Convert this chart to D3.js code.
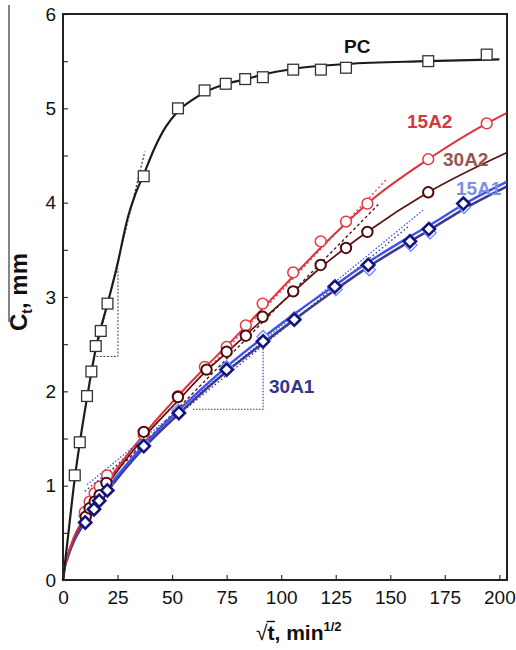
<!DOCTYPE html>
<html><head><meta charset="utf-8">
<script src="https://cdn.jsdelivr.net/npm/d3@7"></script>
<style>
body{margin:0;background:#fff}
svg{display:block}
text{font-family:"Liberation Sans",Arial,Helvetica,sans-serif}
</style>
</head><body>
<svg id="chart" width="516" height="650"></svg>
<script>
// Penetration depth C_t versus square root of time, five mixes
const xTicks = [0, 25, 50, 75, 100, 125, 150, 175, 200];
const yTicks = [0, 0.5, 1, 1.5, 2, 2.5, 3, 3.5, 4, 4.5, 5, 5.5, 6];

// measured points [sqrt(t), C_t]
const pcPoints = [[5.4,1.11],[7.7,1.46],[11,1.95],[13,2.21],[15,2.48],[17.3,2.64],[20.4,2.93],
  [37,4.28],[52.7,5.0],[64.9,5.19],[74.6,5.26],[83.5,5.31],[91.6,5.33],[105.5,5.41],
  [118.2,5.41],[129.7,5.43],[167.4,5.5],[194.2,5.57]];
const a15A2Points = [[10,0.72],[12.2,0.83],[14.5,0.92],[16.8,0.99],[20.2,1.11],[37,1.54],
  [52.7,1.95],[65,2.26],[75,2.47],[83.8,2.70],[91.5,2.93],[105.5,3.26],[118.1,3.59],
  [129.7,3.80],[139.5,3.99],[167.4,4.46],[194.2,4.84]];
const a30A2Points = [[10.4,0.67],[12.2,0.76],[14.5,0.83],[16.8,0.90],[19.9,1.03],[37,1.57],
  [52.7,1.94],[65.8,2.23],[75,2.42],[83.8,2.59],[91.5,2.79],[105.5,3.06],[118.1,3.34],
  [129.7,3.52],[139.5,3.69],[167.4,4.11]];
const a15A1Points = [[10,0.68],[12.2,0.78],[14.5,0.86],[16.8,0.93],[20.2,1.02],[37,1.45],
  [52.7,1.80],[75,2.26],[91.7,2.58],[106,2.78],[125.1,3.08],[140.4,3.29],[159.4,3.55],
  [168.2,3.68],[183.8,3.95]];
const a30A1Points = [[10.2,0.61],[14.2,0.75],[16.6,0.84],[20.3,0.95],[37,1.42],[53.1,1.77],
  [75,2.23],[91.7,2.53],[106,2.76],[124.6,3.11],[139.9,3.34],[159,3.59],[167.7,3.72],[183.5,3.99]];

// fitted model curves
const pcFit = [[0,0],[2.5,0.5],[5.4,1.08],[8,1.5],[11,1.93],[15,2.45],[20.4,2.93],[24.5,3.3],
  [29.8,3.85],[33,4.08],[37,4.3],[42,4.58],[47,4.8],[52.7,4.97],[60,5.1],[65,5.17],[75,5.26],
  [84,5.31],[92,5.36],[106,5.42],[130,5.47],[167,5.5],[200,5.52]];
const fit15A2 = [[0,0],[0.6,0.12],[2,0.25],[4.6,0.43],[10,0.67],[20,1.03],[37,1.54],[52.7,1.95],
  [65,2.25],[75,2.48],[91.5,2.88],[105.5,3.22],[118,3.52],[130,3.79],[140,4.0],[167.4,4.46],
  [194.2,4.84],[203.3,4.95]];
const fit30A2 = [[0,0],[0.6,0.12],[2,0.25],[4.6,0.42],[10,0.65],[20,1.0],[37,1.51],[52.7,1.9],
  [65,2.2],[75,2.41],[91.5,2.76],[105.5,3.05],[118,3.31],[130,3.53],[140,3.7],[167.4,4.11],[203.3,4.53]];
const fit15A1 = [[0,0],[0.6,0.12],[2,0.24],[4.6,0.41],[10,0.63],[20,0.96],[37,1.43],[53,1.8],
  [75,2.26],[91.7,2.57],[106,2.82],[125,3.13],[140,3.37],[159,3.64],[168,3.76],[183.5,3.98],[203.3,4.22]];
const fit30A1 = [[0,0],[0.6,0.11],[2,0.23],[4.6,0.39],[10,0.61],[20,0.93],[37,1.40],[53,1.76],
  [75,2.21],[91.7,2.51],[106,2.76],[125,3.08],[140,3.32],[159,3.59],[168,3.71],[183.5,3.93],[203.3,4.17]];

// initial-slope lines and slope triangles
const pcTangent = [[13,2.23],[37.5,4.54]];
const pcTriangle = [[15.3,2.37],[25.2,2.37],[25.2,3.30]];
const tan15A2 = [[20,1.10],[148,4.24]];
const tan30A2 = [[20,1.05],[144.5,3.98]];
const tan15A1 = [[11,1.01],[165,3.92]];
const tan30A1 = [[10,0.94],[159,3.76]];
const triangle30A1 = [[59.6,1.81],[91.7,1.81],[91.7,2.50]];

const svg = d3.select("#chart");
const x = d3.scaleLinear().domain([0, 203.5]).range([63, 507]);
const y = d3.scaleLinear().domain([0, 6]).range([580, 14]);

const line = d3.line().x(d => x(d[0])).y(d => y(d[1]));
const smooth = d3.line().x(d => x(d[0])).y(d => y(d[1])).curve(d3.curveMonotoneX);

// axes with inward ticks
const gx = svg.append("g").attr("transform", `translate(0,${y(0)})`)
  .call(d3.axisBottom(x).tickValues(xTicks).tickSize(-5).tickSizeOuter(0).tickPadding(11));
const gy = svg.append("g").attr("transform", `translate(${x(0)},0)`)
  .call(d3.axisLeft(y).tickValues(yTicks).tickSize(-5).tickSizeOuter(0).tickPadding(7)
    .tickFormat(d => Number.isInteger(d) ? d : ""));
[gx, gy].forEach(g => {
  g.select(".domain").remove();
  g.selectAll(".tick line").attr("stroke", "#333").attr("stroke-width", 1.2);
  g.selectAll(".tick text").attr("font-size", 19).attr("fill", "#111")
    .attr("font-family", '"Liberation Sans", Arial, sans-serif');
});

// plot frame
svg.append("rect").attr("x", x(0)).attr("y", y(6))
  .attr("width", x(203.5) - x(0)).attr("height", y(0) - y(6))
  .attr("fill", "none").attr("stroke", "#222").attr("stroke-width", 2);

// dotted slope lines
function dotted(pts, color, dash, w) {
  svg.append("path").attr("d", line(pts)).attr("fill", "none")
    .attr("stroke", color).attr("stroke-width", w).attr("stroke-dasharray", dash);
}
dotted(pcTangent, "#333", "2,2", 1.2);
dotted(pcTriangle, "#444", "2,1.5", 1);
dotted(tan15A2, "#e04a50", "2,2.5", 1.4);
dotted(tan30A2, "#5a1a1a", "3,2.5", 1.4);
dotted(tan15A1, "#4a5cf2", "1.5,1.8", 1.4);
dotted(tan30A1, "#2a2a9c", "1.5,2.5", 1.3);
dotted(triangle30A1, "#3232a0", "1.5,1.5", 1.1);

// fitted curves
function curve(pts, color, w) {
  svg.append("path").attr("d", smooth(pts)).attr("fill", "none")
    .attr("stroke", color).attr("stroke-width", w);
}
curve(fit30A1, "#3c3c8e", 2.6);
curve(fit15A1, "#3e52f2", 2.4);
curve(fit30A2, "#5e1114", 1.7);
curve(fit15A2, "#dc333b", 2);
curve(pcFit, "#1c1c1c", 2.2);

// markers
const diamond = d3.symbol().type(d3.symbolDiamond2).size(95);
svg.append("g").selectAll("path").data(a15A1Points).join("path")
  .attr("d", diamond).attr("transform", d => `translate(${x(d[0])},${y(d[1])})`)
  .attr("fill", "#fff").attr("stroke", "#6f86ff").attr("stroke-width", 1.3);
svg.append("g").selectAll("circle").data(a15A2Points).join("circle")
  .attr("cx", d => x(d[0])).attr("cy", d => y(d[1])).attr("r", 5.4)
  .attr("fill", "#fff").attr("stroke", "#e23a40").attr("stroke-width", 1.5);
svg.append("g").selectAll("circle").data(a30A2Points).join("circle")
  .attr("cx", d => x(d[0])).attr("cy", d => y(d[1])).attr("r", 5.2)
  .attr("fill", "#fff").attr("stroke", "#4e0a0c").attr("stroke-width", 2);
svg.append("g").selectAll("path").data(a30A1Points).join("path")
  .attr("d", diamond).attr("transform", d => `translate(${x(d[0])},${y(d[1])})`)
  .attr("fill", "#fff").attr("stroke", "#14147a").attr("stroke-width", 2.6);
svg.append("g").selectAll("rect").data(pcPoints).join("rect")
  .attr("x", d => x(d[0]) - 5.4).attr("y", d => y(d[1]) - 5.4)
  .attr("width", 10.8).attr("height", 10.8)
  .attr("fill", "#fff").attr("stroke", "#333").attr("stroke-width", 1.3);

// series labels
const labels = [
  {t: "PC", x: 344, y: 53, c: "#111"},
  {t: "15A2", x: 407, y: 128, c: "#d13a40"},
  {t: "30A2", x: 443, y: 166, c: "#965550"},
  {t: "15A1", x: 456, y: 195, c: "#7f8fdf"},
  {t: "30A1", x: 269, y: 393, c: "#34348e"}
];
svg.append("g").selectAll("text").data(labels).join("text")
  .attr("x", d => d.x).attr("y", d => d.y).attr("fill", d => d.c)
  .attr("font-size", 19).attr("font-weight", "bold").text(d => d.t);

// y-axis title: C_t, mm
const yTitle = svg.append("text").attr("transform", "translate(27,292) rotate(-90)")
  .attr("text-anchor", "middle").attr("font-size", 24).attr("font-weight", "bold").attr("fill", "#111");
yTitle.append("tspan").text("C");
yTitle.append("tspan").attr("font-size", 14).attr("dy", 5).text("t");
yTitle.append("tspan").attr("dy", -5).text(", mm");
svg.append("line").attr("x1", 9).attr("x2", 9).attr("y1", 5).attr("y2", 322)
  .attr("stroke", "#333").attr("stroke-width", 1.2);

// x-axis title: sqrt(t), min^1/2
const xTitle = svg.append("text").attr("x", 256).attr("y", 640)
  .attr("font-size", 21).attr("fill", "#111");
xTitle.append("tspan").attr("font-weight", "normal").text("\u221A");
xTitle.append("tspan").attr("font-weight", "bold").text("t, min");
xTitle.append("tspan").attr("font-weight", "bold").attr("font-size", 13).attr("dy", -9).text("1/2");
const tExt = xTitle.node().getExtentOfChar(1);
const rExt = xTitle.node().getExtentOfChar(0);
svg.append("line").attr("x1", rExt.x + rExt.width - 1).attr("x2", tExt.x + tExt.width + 0.5)
  .attr("y1", 621.5).attr("y2", 621.5).attr("stroke", "#111").attr("stroke-width", 1.4);
</script>
</body></html>
